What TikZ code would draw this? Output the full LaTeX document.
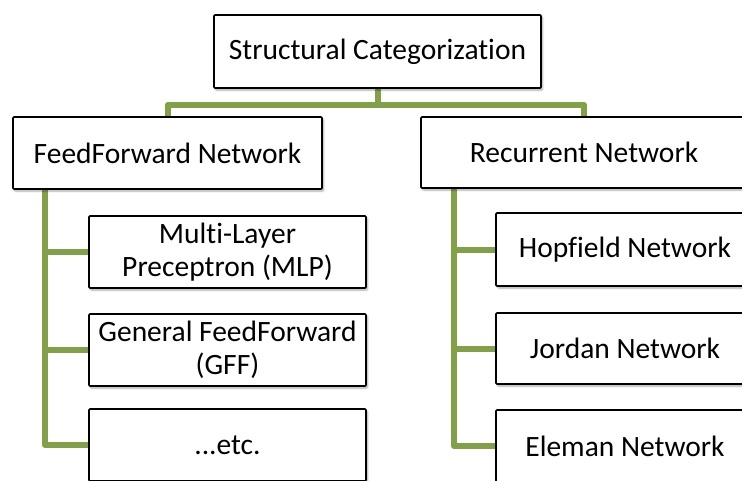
\documentclass[tikz,border=0pt]{standalone}
\usepackage{fontspec}
\setmainfont[Ligatures=NoCommon]{Carlito}
\usetikzlibrary{shadows.blur,backgrounds}
\definecolor{branchgreen}{RGB}{130,160,72}
\tikzset{
  x=1pt, y=1pt,
  catbox/.style={draw=black, line width=1.6pt, fill=white, rounded corners=1pt,
    minimum width=#1, inner sep=0pt, align=center,
    font=\fontsize{29.5}{33}\selectfont,
    blur shadow={shadow xshift=1.5pt, shadow yshift=-2pt, shadow blur steps=6, shadow opacity=35}},
  conn/.style={draw=branchgreen, line width=6pt, line join=round}
}
\begin{document}
\begin{tikzpicture}
\useasboundingbox (0,0) rectangle (742,-480);

% root
\node[catbox=327pt, minimum height=73pt] (root) at (377.5,-51.5) {Structural Categorization};

% main categories
\node[catbox=309pt, minimum height=72pt] (ff) at (167.5,-153) {FeedForward Network};
\node[catbox=326pt, minimum height=71pt] (rn) at (584,-152.5) {Recurrent Network};

% feedforward family
\node[catbox=277pt, minimum height=72pt] (mlp) at (227.5,-252) {Multi-Layer\\Preceptron (MLP)};
\node[catbox=277pt, minimum height=72pt] (gff) at (227.5,-350) {General FeedForward \\(GFF)};
\node[catbox=277pt, minimum height=72pt] (etc) at (227.5,-445) {...etc.};

% recurrent family
\node[catbox=258pt, minimum height=73pt] (hop) at (625,-249.5) {Hopfield Network};
\node[catbox=258pt, minimum height=71pt] (jor) at (625,-348.5) {Jordan Network};
\node[catbox=258pt, minimum height=72pt] (ele) at (625,-446) {Eleman Network};

\coordinate (bus) at (377.5,-105);
\coordinate (trunkL) at (45,0);
\coordinate (trunkR) at (454,0);

\begin{scope}[on background layer]
  \draw[conn] (root.south) -- (bus);
  \draw[conn] (ff.north) |- (bus) -| (rn.north);
  \draw[conn] (trunkL |- ff.south) |- (etc.west);
  \draw[conn] (trunkL |- mlp.west) -- (mlp.west);
  \draw[conn] (trunkL |- gff.west) -- (gff.west);
  \draw[conn] (trunkR |- rn.south) |- (ele.west);
  \draw[conn] (trunkR |- hop.west) -- (hop.west);
  \draw[conn] (trunkR |- jor.west) -- (jor.west);
\end{scope}
\end{tikzpicture}
\end{document}
